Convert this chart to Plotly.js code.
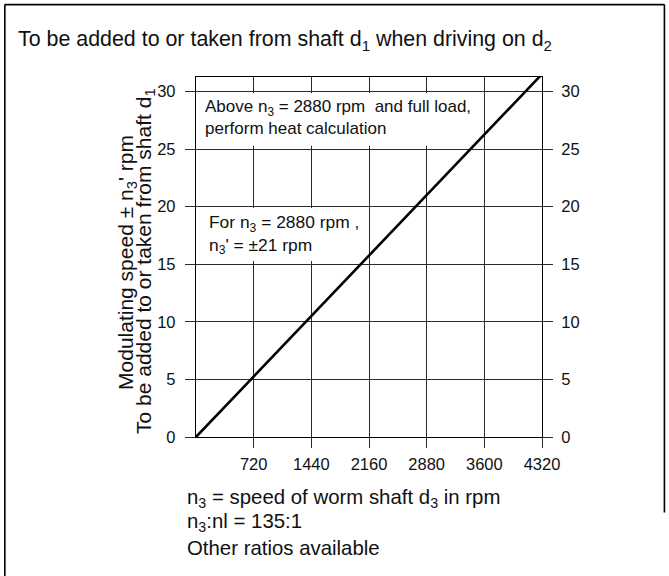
<!DOCTYPE html>
<html>
<head>
<meta charset="utf-8">
<script src="https://cdn.plot.ly/plotly-3.0.1.min.js"></script>
<style>
  html, body { margin: 0; padding: 0; background: #fff; }
  #chart { width: 669px; height: 576px; }
</style>
</head>
<body>
<div id="chart"></div>
<script>
// Worm shaft speed n3 (rpm) and the resulting modulating speed n3' (rpm)
const n3 = [0, 2880, 4320];
const n3Prime = [0, 21, 31.5];

// Axis ticks
const xTicks = [720, 1440, 2160, 2880, 3600, 4320];
const xTickLabels = ['720', '1440', '2160', '2880', '3600', '4320'];
const yTicks = [0, 5, 10, 15, 20, 25, 30];
const yTickLabels = ['0', '5', '10', '15', '20', '25', '30'];

const FONT = 'Liberation Sans, Arial, Helvetica, sans-serif';
const INK = '#111';
const GRID = '#2a2a2a';

// plot-area geometry in pixels, used to place the free text in paper units
const PL = 196, PW = 345.7, PB = 436.7, PH = 359.4;
const px = v => (v - PL) / PW;
const py = v => (PB - v) / PH;

const trace = {
  x: n3,
  y: n3Prime,
  type: 'scatter',
  mode: 'lines',
  line: { color: '#000', width: 2.6 },
  hoverinfo: 'skip',
  showlegend: false
};

// invisible twin so the right-hand scale is drawn
const twin = {
  x: n3,
  y: n3Prime,
  type: 'scatter',
  mode: 'lines',
  yaxis: 'y2',
  line: { width: 0 },
  opacity: 0,
  hoverinfo: 'skip',
  showlegend: false
};

const tickStyle = {
  tickmode: 'array',
  ticks: 'outside',
  ticklen: 10,
  tickcolor: GRID,
  tickwidth: 1,
  tickfont: { family: FONT, size: 16.5, color: INK },
  zeroline: false,
  fixedrange: true
};

const frameLine = { color: '#000', width: 1.6 };

const layout = {
  width: 669,
  height: 576,
  paper_bgcolor: '#fff',
  plot_bgcolor: '#fff',
  margin: { l: 196, r: 127.3, t: 77.3, b: 139.3 },
  font: { family: FONT, color: INK, size: 16 },
  title: {
    text: 'To be added to or taken from shaft d<sub>1</sub> when driving on d<sub>2</sub>',
    font: { family: FONT, size: 21.4, color: INK },
    xref: 'container', yref: 'container',
    x: 18 / 669, xanchor: 'left',
    y: 1 - 39 / 576, yanchor: 'middle'
  },
  xaxis: Object.assign({}, tickStyle, {
    range: [0, 4320],
    tickvals: xTicks,
    ticktext: xTickLabels,
    ticklabelstandoff: 2,
    showgrid: true,
    gridcolor: GRID,
    gridwidth: 1,
    showline: true,
    linecolor: '#000',
    linewidth: 1.2,
    mirror: true
  }),
  yaxis: Object.assign({}, tickStyle, {
    range: [0, 31.25],
    tickvals: yTicks,
    ticktext: yTickLabels,
    ticklabelstandoff: 6,
    showgrid: true,
    gridcolor: GRID,
    gridwidth: 1,
    showline: true,
    linecolor: '#000',
    linewidth: 1.2,
    mirror: true
  }),
  yaxis2: Object.assign({}, tickStyle, {
    overlaying: 'y',
    side: 'right',
    matches: 'y',
    tickvals: yTicks,
    ticktext: yTickLabels,
    ticklabelstandoff: 5,
    showgrid: false,
    showline: false
  }),
  shapes: [
    // outer frame: top, left and right edges
    { type: 'line', xref: 'paper', yref: 'paper', x0: px(5), x1: px(664), y0: py(5), y1: py(5), line: frameLine, layer: 'above' },
    { type: 'line', xref: 'paper', yref: 'paper', x0: px(5), x1: px(5), y0: py(5), y1: py(590), line: frameLine, layer: 'above' },
    { type: 'line', xref: 'paper', yref: 'paper', x0: px(664), x1: px(664), y0: py(5), y1: py(512), line: frameLine, layer: 'above' },
    // white panels behind the two notes
    {
      type: 'rect', xref: 'paper', yref: 'paper',
      x0: px(199), x1: px(469), y0: py(146), y1: py(93.5),
      line: { width: 0 }, fillcolor: '#fff', layer: 'above'
    },
    {
      type: 'rect', xref: 'paper', yref: 'paper',
      x0: px(199), x1: px(362), y0: py(261), y1: py(208),
      line: { width: 0 }, fillcolor: '#fff', layer: 'above'
    }
  ],
  annotations: [
    // vertical axis title, two lines
    {
      text: 'Modulating speed ± n<sub>3</sub>\' rpm',
      xref: 'paper', yref: 'paper',
      x: px(127), y: py(262),
      xanchor: 'center', yanchor: 'middle',
      textangle: -90, showarrow: false,
      font: { family: FONT, size: 21, color: INK }
    },
    {
      text: 'To be added to or taken from shaft d<sub>1</sub>',
      xref: 'paper', yref: 'paper',
      x: px(145), y: py(261),
      xanchor: 'center', yanchor: 'middle',
      textangle: -90, showarrow: false,
      font: { family: FONT, size: 21, color: INK }
    },
    {
      text: 'Above n<sub>3</sub> = 2880 rpm  and full load,<br>perform heat calculation',
      xref: 'paper', yref: 'paper',
      x: px(203), y: py(95),
      xanchor: 'left', yanchor: 'top',
      align: 'left', showarrow: false,
      font: { family: FONT, size: 17, color: INK }
    },
    {
      text: 'For n<sub>3</sub> = 2880 rpm ,<br>n<sub>3</sub>\' = ±21 rpm',
      xref: 'paper', yref: 'paper',
      x: px(207), y: py(210),
      xanchor: 'left', yanchor: 'top',
      align: 'left', showarrow: false,
      font: { family: FONT, size: 17.4, color: INK }
    },
    {
      text: 'n<sub>3</sub> = speed of worm shaft d<sub>3</sub> in rpm',
      xref: 'paper', yref: 'paper',
      x: px(185), y: py(498),
      xanchor: 'left', yanchor: 'middle',
      align: 'left', showarrow: false,
      font: { family: FONT, size: 20.4, color: INK }
    },
    {
      text: 'n<sub>3</sub>:nl = 135:1',
      xref: 'paper', yref: 'paper',
      x: px(185), y: py(522),
      xanchor: 'left', yanchor: 'middle',
      align: 'left', showarrow: false,
      font: { family: FONT, size: 20.4, color: INK }
    },
    {
      text: 'Other ratios available',
      xref: 'paper', yref: 'paper',
      x: px(185), y: py(548),
      xanchor: 'left', yanchor: 'middle',
      align: 'left', showarrow: false,
      font: { family: FONT, size: 20.4, color: INK }
    }
  ]
};

Plotly.newPlot('chart', [trace, twin], layout, { displayModeBar: false, staticPlot: true });
</script>
</body>
</html>
